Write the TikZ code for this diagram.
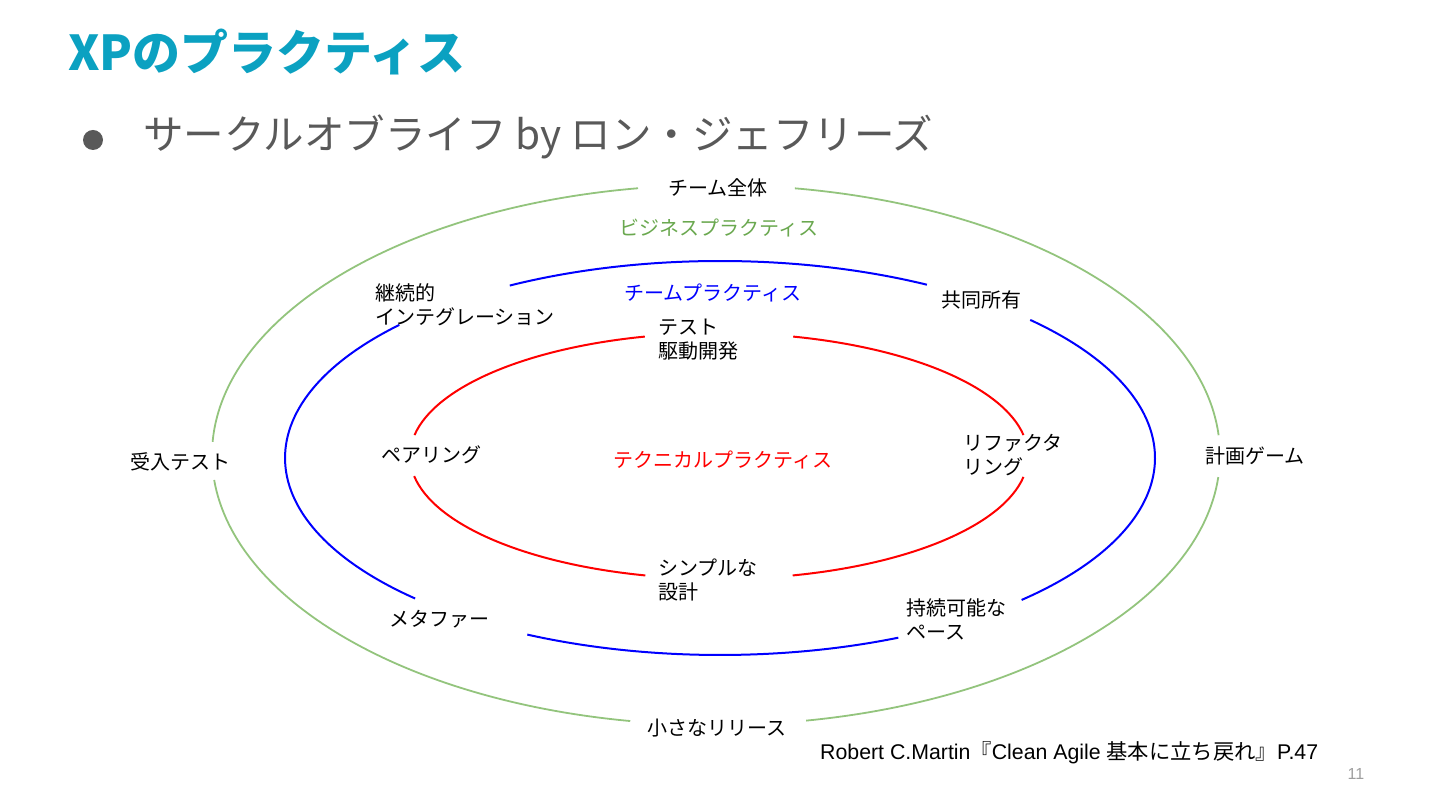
\documentclass[tikz,border=0pt]{standalone}
\usepackage{fontspec}
\setmainfont{Noto Sans CJK JP}
\newfontfamily\latinfont{Liberation Sans}
\usepackage{tikz}
\usetikzlibrary{positioning,calc}

\definecolor{titleteal}{HTML}{0BA1C1}
\definecolor{slidegray}{HTML}{595959}
\definecolor{ringgreen}{HTML}{93C47D}
\definecolor{textgreen}{HTML}{6AA84F}
\definecolor{ringblue}{HTML}{0000FF}
\definecolor{ringred}{HTML}{FF0000}
\definecolor{pagegray}{HTML}{9E9E9E}

\begin{document}
\begin{tikzpicture}[x=1pt, y=1pt,
  lbl/.style={inner sep=0pt, font=\fontsize{20}{24}\selectfont},
  lbl2/.style={lbl, anchor=west, align=left},
  businessring/.style={ringgreen, line width=1.8pt},
  teamring/.style={ringblue, line width=2pt},
  techring/.style={ringred, line width=2pt}]

\useasboundingbox (0,0) rectangle (1440,810);

% Title and bullet line
\node[anchor=west, inner sep=0pt, text=titleteal, font=\fontsize{48}{50}\selectfont\bfseries] (title) at (68,758) {XPのプラクティス};
\fill[slidegray] (93,670) circle (10);
\node[anchor=west, inner sep=0pt, text=slidegray, font=\fontsize{40.5}{44}\selectfont] (subtitle) at (143,673) {サークルオブライフ by ロン・ジェフリーズ};

% Business practices (outer ring)
\begin{scope}[shift={(716,355)}]
  \foreach \a/\b in {4.2/81, 98.9/177.2, 185.3/260.2, 280.3/355.3}
    \draw[businessring] (\a:504pt and 270pt) arc[start angle=\a, end angle=\b, x radius=504pt, y radius=270pt];
\end{scope}

% Team practices (middle ring)
\begin{scope}[shift={(720,352)}]
  \foreach \a/\b in {-46.1/44.5, 61.6/118.9, 137.5/225.5, 243.7/294.2}
    \draw[teamring] (\a:435pt and 197pt) arc[start angle=\a, end angle=\b, x radius=435pt, y radius=197pt];
\end{scope}

% Technical practices (inner ring)
\begin{scope}[shift={(719,354)}]
  \foreach \a/\b in {9.8/76.1, 103.9/170.2, 189.4/256.2, 283.8/350.2}
    \draw[techring] (\a:309pt and 123pt) arc[start angle=\a, end angle=\b, x radius=309pt, y radius=123pt];
\end{scope}

% Ring names
\node[lbl, text=textgreen] (business) at (719,582) {ビジネスプラクティス};
\node[lbl, text=ringblue] (team) at (713,517) {チームプラクティス};
\node[lbl, text=ringred] (technical) at (723,350) {テクニカルプラクティス};

% Outer ring practices
\node[lbl] (whole) at (718,622) {チーム全体};
\node[lbl] (acceptance) at (180,348) {受入テスト};
\node[lbl] (planning) at (1255,354) {計画ゲーム};
\node[lbl] (releases) at (717,82) {小さなリリース};

% Middle ring practices
\node[lbl2] (ci) at (375,505.5) {継続的\\インテグレーション};
\node[lbl] (ownership) at (981,510) {共同所有};
\node[lbl] (metaphor) at (439,191) {メタファー};
\node[lbl2] (pace) at (906,191) {持続可能な\\ペース};

% Inner ring practices
\node[lbl2] (tdd) at (658,470) {テスト\\駆動開発};
\node[lbl] (pairing) at (431,355) {ペアリング};
\node[lbl2] (refactoring) at (963,355) {リファクタ\\リング};
\node[lbl2] (design) at (658,230) {シンプルな\\設計};

% Source and page number
\node[anchor=west, inner sep=0pt, font=\fontsize{21.3}{24}\selectfont] (source) at (820,57)
  {\latinfont Robert C.Martin\normalfont『\latinfont Clean Agile \normalfont 基本に立ち戻れ』\latinfont P.47};
\node[inner sep=0pt, text=pagegray, font=\latinfont\fontsize{16}{18}\selectfont] (page) at (1356,36) {11};

\end{tikzpicture}
\end{document}
